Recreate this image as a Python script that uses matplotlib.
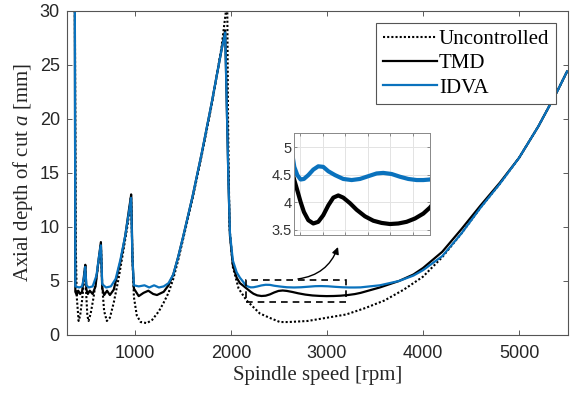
import matplotlib
matplotlib.use("Agg")
import matplotlib.pyplot as plt
from matplotlib.patches import Rectangle

plt.rcParams["font.family"] = ["Liberation Sans", "DejaVu Sans"]
plt.rcParams["mathtext.fontset"] = "custom"
plt.rcParams["mathtext.rm"] = "Liberation Serif"
plt.rcParams["mathtext.it"] = "Liberation Serif:italic"

# ---------------------------------------------------------------------------
# Data (spindle speed [rpm] -> a [mm])
# ---------------------------------------------------------------------------
unc_rpm = [375, 385, 395, 414, 430, 450, 470, 482, 495, 505,
           518, 540, 570, 610, 646, 660, 680, 708, 740, 780,
           830, 880, 930, 960, 975, 990, 1020, 1060, 1125, 1180,
           1250, 1300, 1350, 1400, 1450, 1500, 1600, 1700, 1800, 1900,
           1955, 1962, 1970, 1985, 2020, 2080, 2163, 2300, 2400, 2510,
           2600, 2800, 3000, 3200, 3400, 3600, 3800, 4000, 4200, 4400,
           4600, 4800, 5000, 5200, 5400, 5500]
unc_a = [30, 8, 3.5, 1.3, 1.8, 3.2, 5.0, 6.4, 3.5, 1.8,
         1.3, 2.0, 3.5, 6.0, 8.4, 4.5, 2.2, 1.3, 1.6, 3.0,
         5.2, 7.8, 10.5, 13.0, 7.0, 3.5, 1.8, 1.2, 1.1, 1.4,
         2.2, 3.0, 3.9, 5.2, 6.9, 8.8, 12.6, 16.8, 21.3, 26.5,
         30.5, 30.5, 20, 10, 6.3, 4.3, 3.2, 2.0, 1.6, 1.2,
         1.2, 1.3, 1.6, 1.9, 2.5, 3.2, 4.2, 5.4, 7.2, 9.4,
         11.8, 14.0, 16.4, 19.3, 22.6, 24.4]

tmd_rpm = [375, 380, 395, 410, 430, 450, 470, 484, 495, 510,
           530, 560, 590, 620, 646, 660, 680, 710, 740, 780,
           850, 900, 940, 962, 975, 990, 1040, 1090, 1140, 1190,
           1230, 1300, 1350, 1400, 1450, 1500, 1600, 1700, 1800, 1900,
           1940, 1955, 1975, 1990, 2020, 2060, 2094, 2130, 2150, 2177,
           2206, 2235, 2274, 2318, 2362, 2406, 2451, 2495, 2539, 2583,
           2642, 2701, 2775, 2849, 2922, 2996, 3070, 3143, 3217, 3291,
           3350, 3550, 3750, 3900, 4000, 4200, 4400, 4600, 4800, 5000,
           5200, 5400, 5500]
tmd_a = [30, 4.0, 3.7, 4.1, 3.8, 4.0, 5.5, 6.5, 4.2, 3.8,
         4.1, 3.8, 4.5, 6.8, 8.6, 4.3, 3.7, 4.1, 3.7, 4.2,
         6.8, 9.2, 11.7, 13.0, 7.0, 4.3, 3.6, 3.9, 4.1, 3.8,
         3.7, 4.0, 4.6, 5.6, 7.2, 9.0, 12.8, 17.0, 21.5, 26.3,
         28.2, 22, 14, 9.2, 6.5, 5.3, 4.8, 4.55, 4.40, 4.21,
         4.00, 3.82, 3.67, 3.61, 3.64, 3.76, 3.94, 4.08, 4.12, 4.08,
         3.98, 3.86, 3.74, 3.66, 3.62, 3.60, 3.61, 3.64, 3.70, 3.79,
         3.90, 4.4, 5.0, 5.6, 6.2, 7.7, 9.8, 12.0, 14.1, 16.4,
         19.3, 22.6, 24.4]

idva_rpm = [375, 380, 420, 450, 470, 482, 495, 520, 560, 600,
            630, 646, 660, 700, 750, 800, 850, 900, 940, 960,
            975, 990, 1040, 1100, 1150, 1200, 1250, 1300, 1350, 1400,
            1450, 1500, 1600, 1700, 1800, 1900, 1940, 1955, 1975, 1990,
            2020, 2060, 2094, 2130, 2150, 2177, 2206, 2235, 2274, 2318,
            2362, 2406, 2451, 2510, 2583, 2657, 2731, 2804, 2878, 2937,
            3011, 3085, 3158, 3232, 3291, 3350, 3550, 3750, 3900, 4000,
            4200, 4400, 4600, 4800, 5000, 5200, 5400, 5500]
idva_a = [30, 4.5, 4.4, 4.5, 5.3, 6.3, 4.6, 4.4, 4.5, 5.5,
          7.5, 8.3, 4.7, 4.4, 4.5, 5.2, 7.0, 9.2, 11.5, 12.7,
          7.0, 4.6, 4.5, 4.6, 4.4, 4.6, 4.4, 4.5, 4.8, 5.6,
          7.2, 9.0, 12.8, 17.0, 21.5, 26.3, 28.0, 22, 14, 9.4,
          6.9, 5.8, 5.3, 4.9, 4.64, 4.49, 4.41, 4.42, 4.49, 4.59,
          4.65, 4.64, 4.56, 4.49, 4.42, 4.40, 4.42, 4.47, 4.52, 4.53,
          4.51, 4.46, 4.42, 4.40, 4.40, 4.41, 4.6, 5.0, 5.5, 6.0,
          7.3, 9.4, 11.8, 14.0, 16.4, 19.3, 22.6, 24.4]

# zoom window (rpm range and depth range marked on the main plot)
zoom_rpm = [2160, 3200]
zoom_a = [3.1, 5.1]

BLUE = "#0a72bd"
DOT = (0, (1, 1))

fig = plt.figure(figsize=(5.73, 3.98), dpi=100)
ax = fig.add_axes([0.1164, 0.1583, 0.8749, 0.8141])

ax.plot(unc_rpm, unc_a, color="black", linestyle=DOT, linewidth=1.5, label="Uncontrolled")
ax.plot(tmd_rpm, tmd_a, color="black", linewidth=1.6, label="TMD")
ax.plot(idva_rpm, idva_a, color=BLUE, linewidth=1.6, label="IDVA")

ax.set_xlim(290, 5510)
ax.set_ylim(0, 30)
ax.set_xticks([1000, 2000, 3000, 4000, 5000])
ax.set_yticks([0, 5, 10, 15, 20, 25, 30])
ax.tick_params(direction="in", length=3.5, width=0.6, top=True, right=True,
               labelsize=13, colors="#404040", labelcolor="#262626")
ax.tick_params(axis="x", pad=7)
ax.tick_params(axis="y", pad=5)
for s in ax.spines.values():
    s.set_color("#555555")
    s.set_linewidth(0.8)

ax.set_xlabel("Spindle speed [rpm]", family="Liberation Serif", fontsize=15,
              color="#262626", labelpad=3)
ax.set_ylabel("Axial depth of cut $a$ [mm]", family="Liberation Serif", fontsize=15,
              color="#262626", labelpad=3)

leg = ax.legend(loc="upper right", prop={"family": "Liberation Serif", "size": 15},
                frameon=True, fancybox=False, framealpha=1, edgecolor="#555555",
                handlelength=2.6, handletextpad=0.1, labelspacing=0.22,
                borderpad=0.3, borderaxespad=0.6)
leg.get_frame().set_linewidth(0.8)

# dashed zoom rectangle and arrow to the inset
ax.add_patch(Rectangle((zoom_rpm[0], zoom_a[0]), zoom_rpm[1] - zoom_rpm[0],
                       zoom_a[1] - zoom_a[0], fill=False, edgecolor="black",
                       linestyle=(0, (4, 3)), linewidth=1.2, zorder=4))
ax.annotate("", xy=(3115, 8.15), xytext=(2698, 5.19),
            arrowprops=dict(arrowstyle="-|>", connectionstyle="arc3,rad=0.3",
                            color="black", lw=1.0, mutation_scale=10,
                            shrinkA=0, shrinkB=0))

# inset
ins = fig.add_axes([0.5136, 0.4095, 0.2368, 0.2555])
ins.plot(tmd_rpm, tmd_a, color="black", linewidth=3)
ins.plot(idva_rpm, idva_a, color=BLUE, linewidth=3)
ins.set_xlim(2150, 3350)
ins.set_ylim(3.4, 5.25)
ins.set_xticks([2200, 2400, 2600, 2800, 3000, 3200])
ins.set_xticklabels([])
ins.set_yticks([3.5, 4, 4.5, 5])
ins.set_yticklabels(["3.5", "4", "4.5", "5"])
ins.grid(True, color="#e3e3e3", linewidth=0.7)
ins.set_axisbelow(True)
ins.tick_params(direction="in", length=2.5, width=0.5, top=True, right=True,
                labelsize=10.5, colors="#666666", labelcolor="#333333", pad=2)
for s in ins.spines.values():
    s.set_color("#888888")
    s.set_linewidth(0.7)

fig.savefig("out.png", dpi=100)
